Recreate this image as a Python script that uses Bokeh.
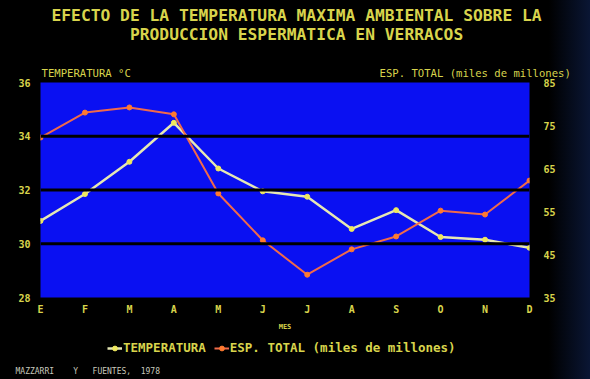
from bokeh.plotting import figure
from bokeh.layouts import column
from bokeh.models import (Range1d, LinearAxis, FixedTicker, Span, Legend, LegendItem, Title)
from bokeh.embed import file_html
from bokeh.resources import INLINE

meses = ["E", "F", "M", "A", "M", "J", "J", "A", "S", "O", "N", "D"]
temperatura = [30.85, 31.85, 33.05, 34.5, 32.8, 31.95, 31.75, 30.55, 31.25, 30.25, 30.15, 29.85]
esp_total = [72.2, 78.0, 79.2, 77.6, 59.2, 48.3, 40.3, 46.2, 49.2, 55.2, 54.3, 62.2]
temp_ticks = [28, 30, 32, 34, 36]
esp_ticks = [35, 45, 55, 65, 75, 85]
grid_temps = [30, 32, 34]

NB = "\u00a0"
titulo_1 = "EFECTO DE LA TEMPERATURA MAXIMA AMBIENTAL SOBRE LA"
titulo_2 = "PRODUCCION ESPERMATICA EN VERRACOS"
eje_izq = "TEMPERATURA °C"
eje_der = "ESP. TOTAL (miles de millones)"
eje_x = "MES"
fuente = "MAZZARRI" + NB * 4 + "Y" + NB * 3 + "FUENTES," + NB * 2 + "1978"

YEL = "#d8d44c"
FONT = "DejaVu Sans Mono"
W = 590
H_MAIN, H_BOT = 335, 44

x = list(range(len(meses)))

# ---------- main chart ----------
p = figure(width=W, height=H_MAIN, output_backend="svg", toolbar_location=None,
           x_range=Range1d(0, 11), y_range=Range1d(28, 36),
           min_border_left=40, min_border_right=61, min_border_top=82, min_border_bottom=38)
p.background_fill_color = "#0a10f2"
p.border_fill_alpha = 0
p.outline_line_color = None
p.xgrid.visible = False
p.ygrid.visible = False
p.extra_y_ranges = {"esp": Range1d(35, 85)}

for g in grid_temps:
    p.add_layout(Span(location=g, dimension="width", line_color="#000000", line_width=3))


def style_axis(ax, standoff):
    ax.axis_line_color = None
    ax.major_tick_line_color = None
    ax.minor_tick_line_color = None
    ax.major_tick_out = 0
    ax.major_tick_in = 0
    ax.minor_tick_out = 0
    ax.minor_tick_in = 0
    ax.major_label_text_color = YEL
    ax.major_label_text_font = FONT
    ax.major_label_text_font_style = "bold"
    ax.major_label_text_font_size = "10px"
    ax.major_label_standoff = standoff


xa = p.xaxis[0]
xa.ticker = FixedTicker(ticks=x)
xa.major_label_overrides = {i: m for i, m in enumerate(meses)}
style_axis(xa, 6)
xa.axis_label = eje_x
xa.axis_label_text_color = YEL
xa.axis_label_text_font = FONT
xa.axis_label_text_font_size = "7px"
xa.axis_label_text_font_style = "bold"
xa.axis_label_standoff = 5

ya = p.yaxis[0]
ya.ticker = FixedTicker(ticks=temp_ticks)
style_axis(ya, 10)

ra = LinearAxis(y_range_name="esp", ticker=FixedTicker(ticks=esp_ticks))
style_axis(ra, 14)
p.add_layout(ra, "right")

T_LINE, T_MARK = "#e6e8b4", "#f0e860"
E_LINE, E_MARK = "#f06a4a", "#ff7a30"
p.line(x, temperatura, line_color=T_LINE, line_width=2.5)
p.scatter(x, temperatura, size=5, color=T_MARK)
p.line(x, esp_total, y_range_name="esp", line_color=E_LINE, line_width=2)
p.scatter(x, esp_total, y_range_name="esp", size=5, color=E_MARK)

# titles above the frame (first added = nearest to the frame)
t_axes = Title(text=eje_izq + NB * 39 + eje_der, align="left", offset=1, standoff=8,
               text_color=YEL, text_font=FONT, text_font_style="normal", text_font_size="10.6px")
t_gap = Title(text=".", align="left", standoff=13, text_font_size="1px",
              text_color="#000000", text_alpha=0.01)
t_main = Title(text=titulo_1 + "\n" + NB * 8 + titulo_2, align="left", offset=11, standoff=2,
               text_color=YEL, text_font=FONT, text_font_style="bold", text_font_size="16.3px")
p.add_layout(t_axes, "above")
p.add_layout(t_gap, "above")
p.add_layout(t_main, "above")

# ---------- bottom strip: legend + source ----------
bot = figure(width=W, height=H_BOT, output_backend="svg", toolbar_location=None,
             x_range=Range1d(0, 11), y_range=Range1d(1000, 1001),
             x_axis_type=None, y_axis_type=None,
             min_border_left=40, min_border_right=61, min_border_top=0, min_border_bottom=0)
bot.background_fill_alpha = 0
bot.border_fill_alpha = 0
bot.outline_line_color = None
bot.xgrid.visible = False
bot.ygrid.visible = False
# same series, used here only to feed the legend (outside this strip's visible range)
b1 = bot.line(x, temperatura, line_color=T_LINE, line_width=2.5)
b1m = bot.scatter(x, temperatura, size=5, color=T_MARK)
b2 = bot.line(x, esp_total, line_color=E_LINE, line_width=2)
b2m = bot.scatter(x, esp_total, size=5, color=E_MARK)
legend = Legend(items=[LegendItem(label="TEMPERATURA", renderers=[b1, b1m]),
                       LegendItem(label="ESP. TOTAL (miles de millones)", renderers=[b2, b2m])],
                orientation="horizontal", location=(67, 5),
                background_fill_alpha=0, border_line_color=None,
                label_text_color=YEL, label_text_font=FONT, label_text_font_style="bold",
                label_text_font_size="12.5px", glyph_width=15, glyph_height=12,
                spacing=8, label_standoff=1, padding=0, margin=0)
bot.add_layout(legend, "center")
t_foot = Title(text=fuente, align="left", offset=-25, standoff=8,
               text_color="#c8c8bc", text_font=FONT, text_font_style="normal", text_font_size="8px")
bot.add_layout(t_foot, "below")

layout = column(p, bot, spacing=0,
                styles={"background": "linear-gradient(to right, #000000 0%, #000000 93%, #0a1634 100%)"})
open("out.html", "w").write(file_html(layout, INLINE))
